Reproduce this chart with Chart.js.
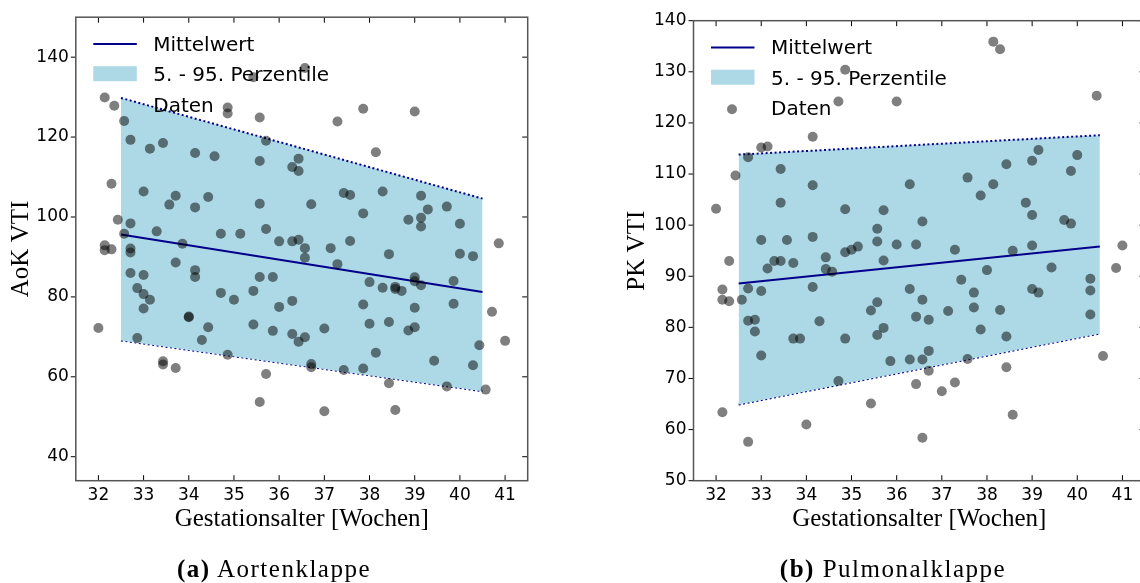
<!DOCTYPE html>
<html>
<head>
<meta charset="utf-8">
<script src="https://cdn.jsdelivr.net/npm/chart.js@4"></script>
<style>
  html, body { margin: 0; padding: 0; background: #fff; width: 1140px; height: 583px; overflow: hidden; position: relative; }
  canvas { position: absolute; top: 0; }
  #chartA { left: 0; }
  #chartB { left: 590px; }
  .caption { position: absolute; top: 556px; font-family: "Liberation Serif", serif; font-size: 25px; line-height: 25px; letter-spacing: 1.5px; white-space: nowrap; transform: translateX(-50%); }
</style>
</head>
<body>
<canvas id="chartA" width="590" height="583" style="width:590px;height:583px"></canvas>
<canvas id="chartB" width="570" height="583" style="width:570px;height:583px"></canvas>
<div class="caption" style="left:274px"><b>(a)</b> Aortenklappe</div>
<div class="caption" style="left:893px"><b>(b)</b> Pulmonalklappe</div>
<script>
// Aortenklappe, data points
const weeksAorta = [
  32.14, 32.57, 32.71, 33.14, 33.43, 34.14, 34.57, 34.86, 34.86, 35.43, 35.57, 35.71,
  36.57, 36.43, 36.29, 36.43, 35.57, 37.29, 37.86, 38.14, 39.0, 32.29, 33.0, 33.71,
  33.57, 34.14, 34.43, 35.57, 36.71, 37.43, 37.57, 38.29, 37.86, 39.14, 39.29, 39.71,
  38.86, 39.14, 39.14, 40.0, 32.43, 32.57, 32.71, 33.29, 33.86, 34.71, 35.14, 35.71,
  36.0, 36.29, 36.43, 37.57, 36.57, 37.14, 32.14, 32.14, 32.29, 32.71, 32.71, 36.57,
  38.43, 40.0, 40.29, 40.86, 33.71, 37.29, 32.71, 33.0, 34.14, 34.14, 35.57, 35.86,
  38.0, 39.0, 39.0, 39.14, 39.86, 38.29, 38.57, 38.57, 38.71, 32.86, 33.0, 33.14,
  33.0, 34.71, 35.0, 35.43, 36.0, 36.29, 37.86, 39.86, 39.0, 40.71, 34.0, 34.0,
  35.43, 34.43, 35.86, 37.0, 38.0, 38.43, 38.86, 39.0, 32.0, 36.29, 36.57, 36.43,
  34.29, 32.86, 40.43, 41.0, 38.14, 34.86, 33.43, 33.43, 33.71, 36.71, 36.71, 37.43,
  37.86, 39.43, 40.29, 35.71, 38.43, 39.71, 40.57, 35.57, 37.0, 38.57
];
const vtiAorta = [
  129.9, 124.0, 119.3, 117.1, 118.5, 116.0, 115.2, 127.4, 125.9, 135.0, 124.9, 119.1,
  137.3, 114.6, 112.5, 111.5, 114.0, 123.9, 127.1, 116.2, 126.4, 108.3, 106.4, 105.3,
  103.1, 102.4, 105.0, 103.3, 103.2, 106.0, 105.5, 106.4, 100.9, 105.3, 101.9, 102.6,
  99.3, 99.8, 97.6, 98.3, 99.3, 95.8, 98.4, 96.4, 93.3, 95.8, 95.8, 97.0,
  93.9, 93.9, 94.3, 94.0, 92.2, 92.2, 92.9, 91.7, 91.9, 92.1, 91.1, 89.8,
  90.7, 90.8, 90.2, 93.4, 88.6, 88.2, 86.0, 85.5, 86.7, 85.0, 85.0, 85.0,
  83.7, 84.9, 83.9, 82.9, 84.0, 82.3, 82.5, 82.0, 81.5, 82.2, 80.7, 79.3,
  77.1, 81.0, 79.3, 81.5, 77.5, 79.0, 78.1, 78.3, 77.3, 76.3, 75.1, 74.9,
  73.1, 72.4, 71.5, 72.1, 73.3, 73.7, 71.6, 72.4, 72.2, 70.7, 69.9, 68.8,
  69.2, 69.7, 67.9, 69.0, 66.0, 65.5, 63.9, 63.1, 62.2, 63.2, 62.4, 61.7,
  62.1, 64.0, 62.9, 60.7, 58.4, 57.6, 56.8, 53.7, 51.4, 51.7
];

// Pulmonalklappe, data points
const weeksPulm = [
  38.14, 38.29, 34.86, 34.71, 36.0, 40.43, 34.14, 33.0, 33.14, 32.71, 32.43, 33.43,
  39.14, 40.0, 39.0, 38.43, 39.86, 37.57, 38.14, 36.29, 34.14, 37.86, 33.43, 38.86,
  34.86, 35.71, 32.0, 39.0, 36.57, 39.71, 39.86, 35.57, 33.0, 33.57, 34.14, 35.57,
  36.0, 36.43, 37.29, 38.57, 39.0, 41.0, 35.14, 35.0, 34.86, 34.43, 32.29, 33.29,
  33.43, 33.71, 33.14, 34.43, 34.57, 35.71, 38.0, 39.43, 40.86, 37.43, 40.29, 40.29,
  40.29, 39.0, 39.14, 37.71, 37.71, 38.29, 37.86, 38.43, 37.14, 36.29, 36.57, 36.43,
  36.71, 35.57, 35.43, 35.71, 35.57, 35.86, 36.29, 36.57, 36.71, 36.71, 36.43, 37.0,
  37.29, 37.57, 38.43, 38.57, 40.57, 34.14, 34.29, 34.86, 34.71, 35.43, 34.0, 36.57,
  32.71, 32.57, 32.14, 32.14, 32.29, 33.0, 32.71, 32.86, 32.86, 33.0, 33.71, 33.86,
  32.14, 32.71
];
const vtiPulm = [
  135.9, 134.4, 130.4, 124.2, 124.2, 125.3, 117.3, 115.2, 115.4, 113.3, 109.7, 111.0,
  114.7, 113.7, 112.6, 111.9, 110.6, 109.3, 108.0, 108.0, 107.8, 105.8, 104.4, 104.4,
  103.1, 102.9, 103.2, 102.0, 100.7, 101.0, 100.3, 99.3, 97.1, 97.1, 97.7, 96.8,
  96.2, 96.2, 95.2, 95.0, 96.0, 96.0, 95.8, 95.2, 94.7, 93.7, 93.0, 93.0,
  93.0, 92.6, 91.5, 91.4, 90.9, 93.1, 91.2, 91.7, 91.6, 89.3, 89.5, 87.2,
  82.5, 87.5, 86.8, 86.8, 83.9, 83.4, 79.6, 78.2, 83.2, 87.5, 85.4, 82.1,
  81.5, 84.9, 83.3, 79.9, 78.5, 73.4, 73.7, 73.7, 75.4, 71.5, 68.9, 67.5,
  69.2, 73.8, 72.2, 62.9, 74.4, 87.9, 81.2, 77.8, 69.5, 65.1, 61.0, 58.4,
  87.6, 85.4, 87.4, 85.4, 85.1, 87.1, 81.3, 81.5, 79.2, 74.5, 77.8, 77.8,
  63.4, 57.6
];

// Mittelwert und 5.-95. Perzentile
const bandWeeks = [32.5, 40.5];
const meanAorta = [95.6, 81.2];
const upperAorta = [129.8, 104.6];
const lowerAorta = [69.1, 56.4];
const meanPulm = [88.6, 95.8];
const upperPulm = [113.8, 117.6];
const lowerPulm = [64.9, 78.8];

const weekTicks = [32, 33, 34, 35, 36, 37, 38, 39, 40, 41];
const aortaTicks = [40, 60, 80, 100, 120, 140];
const pulmTicks = [50, 60, 70, 80, 90, 100, 110, 120, 130, 140];

const toPoints = (xs, ys) => xs.map((x, i) => ({ x, y: ys[i] }));

const insetLegend = {
  id: "insetLegend",
  afterDatasetsDraw(chart) {
    const { ctx, chartArea: { left, top } } = chart;
    const [points, mean, upper] = chart.data.datasets;
    ctx.save();
    ctx.font = '20px "DejaVu Sans"';
    ctx.textBaseline = "alphabetic";

    ctx.strokeStyle = mean.borderColor;
    ctx.lineWidth = 2;
    ctx.beginPath();
    ctx.moveTo(left + 17.5, top + 26.7);
    ctx.lineTo(left + 61, top + 26.7);
    ctx.stroke();

    ctx.fillStyle = upper.backgroundColor;
    ctx.fillRect(left + 17.5, top + 49, 43.5, 15);

    ctx.fillStyle = points.backgroundColor;
    ctx.beginPath();
    ctx.arc(left + 38.5, top + 88.5, 5, 0, Math.PI * 2);
    ctx.fill();

    ctx.fillStyle = "#000";
    ctx.fillText(mean.label, left + 77.5, top + 33.5);
    ctx.fillText(upper.label, left + 77.5, top + 64);
    ctx.fillText(points.label, left + 77.5, top + 94.3);
    ctx.restore();
  },
};

const frameTicks = {
  id: "frameTicks",
  afterDatasetsDraw(chart) {
    const { ctx, chartArea: area, scales: { x, y } } = chart;
    ctx.save();
    ctx.strokeStyle = "#000";
    ctx.lineWidth = 1;
    ctx.beginPath();
    x.ticks.forEach((tick) => {
      const px = x.getPixelForValue(tick.value);
      ctx.moveTo(px, area.bottom);
      ctx.lineTo(px, area.bottom - 5.5);
      ctx.moveTo(px, area.top);
      ctx.lineTo(px, area.top + 5.5);
    });
    y.ticks.forEach((tick) => {
      const py = y.getPixelForValue(tick.value);
      ctx.moveTo(area.left - 5, py);
      ctx.lineTo(area.left, py);
      ctx.moveTo(area.right, py);
      ctx.lineTo(area.right - 5.5, py);
    });
    ctx.stroke();
    ctx.strokeStyle = "#555";
    ctx.lineWidth = 1.5;
    ctx.strokeRect(area.left, area.top, area.right - area.left, area.bottom - area.top);
    ctx.restore();
  },
};

function drawPanel(canvasId, opts) {
  const canvas = document.getElementById(canvasId);
  const tickFont = { family: "DejaVu Sans", size: 17 };
  const titleFont = { family: "Liberation Serif", size: 25 };

  new Chart(canvas, {
    type: "scatter",
    data: {
      datasets: [
        {
          label: "Daten",
          data: toPoints(opts.weeks, opts.values),
          backgroundColor: "rgba(0, 0, 0, 0.5)",
          borderWidth: 0,
          pointRadius: 5,
          pointHoverRadius: 5,
          order: 0,
        },
        {
          type: "line",
          label: "Mittelwert",
          data: toPoints(bandWeeks, opts.mean),
          borderColor: "#00008b",
          borderWidth: 2,
          pointRadius: 0,
          fill: false,
          order: 1,
        },
        {
          type: "line",
          label: "5. - 95. Perzentile",
          data: toPoints(bandWeeks, opts.upper),
          borderColor: "#00008b",
          borderWidth: 2,
          borderDash: [2, 2.5],
          backgroundColor: "#add8e6",
          pointRadius: 0,
          fill: 3,
          order: 2,
        },
        {
          type: "line",
          label: "5. Perzentile",
          data: toPoints(bandWeeks, opts.lower),
          borderColor: "#00008b",
          borderWidth: 2,
          borderDash: [2, 2.5],
          pointRadius: 0,
          fill: false,
          order: 3,
        },
      ],
    },
    options: {
      responsive: false,
      animation: false,
      layout: {
        padding: { left: 0, top: opts.top, right: canvas.width - opts.right, bottom: 0 },
      },
      plugins: {
        legend: { display: false },
        tooltip: { enabled: false },
      },
      scales: {
        x: {
          type: "linear",
          min: 31.5,
          max: 41.5,
          afterBuildTicks: (scale) => {
            scale.ticks = weekTicks.map((value) => ({ value }));
          },
          afterFit: (scale) => {
            scale.height = canvas.height - 480.7;
          },
          grid: { display: false, drawTicks: false },
          border: { display: false },
          ticks: { font: tickFont, color: "#000", padding: 5, maxRotation: 0 },
          title: {
            display: true,
            text: "Gestationsalter [Wochen]",
            font: titleFont,
            color: "#000",
            padding: { top: 0, bottom: 48.5 },
          },
        },
        y: {
          min: opts.yMin,
          max: opts.yMax,
          afterBuildTicks: (scale) => {
            scale.ticks = opts.yTicks.map((value) => ({ value }));
          },
          afterFit: (scale) => {
            scale.width = opts.left;
          },
          grid: { display: false, drawTicks: false },
          border: { display: false },
          ticks: { font: tickFont, color: "#000", padding: 7 },
          title: {
            display: true,
            text: opts.yLabel,
            font: titleFont,
            color: "#000",
            padding: { top: opts.yTitleX - 15, bottom: 0 },
          },
        },
      },
    },
    plugins: [frameTicks, insetLegend],
  });
}

drawPanel("chartA", {
  weeks: weeksAorta,
  values: vtiAorta,
  mean: meanAorta,
  upper: upperAorta,
  lower: lowerAorta,
  yMin: 34,
  yMax: 150,
  yTicks: aortaTicks,
  yLabel: "AoK VTI",
  left: 75.8,
  right: 527.7,
  top: 13.3,
  yTitleX: 21,
});

drawPanel("chartB", {
  weeks: weeksPulm,
  values: vtiPulm,
  mean: meanPulm,
  upper: upperPulm,
  lower: lowerPulm,
  yMin: 50,
  yMax: 140,
  yTicks: pulmTicks,
  yLabel: "PK VTI",
  left: 103.5,
  right: 555,
  top: 20.7,
  yTitleX: 47.4,
});
</script>
</body>
</html>
